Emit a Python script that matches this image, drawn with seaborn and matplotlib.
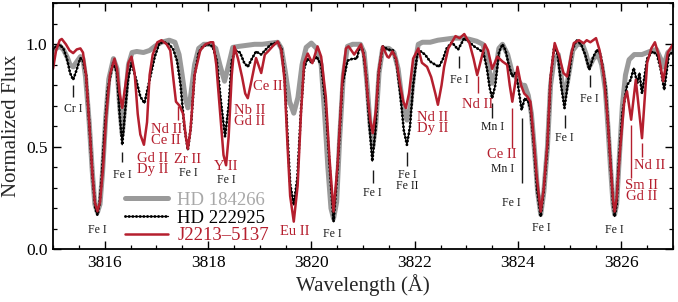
import matplotlib
matplotlib.use("Agg")
import matplotlib.pyplot as plt
import seaborn as sns
from matplotlib.ticker import MultipleLocator, FormatStrFormatter
from matplotlib.lines import Line2D
from matplotlib.legend_handler import HandlerTuple

# ---------------- data ----------------
gray_wl = [3815.00, 3815.06, 3815.13, 3815.20, 3815.27, 3815.33, 3815.39, 3815.46, 3815.53, 3815.58,
           3815.63, 3815.70, 3815.76, 3815.81, 3815.86, 3815.91, 3815.96, 3816.02, 3816.08, 3816.17,
           3816.24, 3816.29, 3816.34, 3816.39, 3816.46, 3816.53, 3816.62, 3816.75, 3816.87, 3816.97,
           3817.10, 3817.25, 3817.36, 3817.44, 3817.50, 3817.56, 3817.61, 3817.66, 3817.74, 3817.82,
           3817.92, 3818.05, 3818.15, 3818.23, 3818.32, 3818.40, 3818.48, 3818.60, 3818.75, 3818.90,
           3819.05, 3819.20, 3819.35, 3819.42, 3819.50, 3819.58, 3819.66, 3819.74, 3819.82, 3819.90,
           3820.00, 3820.10, 3820.19, 3820.26, 3820.32, 3820.38, 3820.43, 3820.49, 3820.55, 3820.62,
           3820.70, 3820.80, 3820.95, 3821.02, 3821.08, 3821.14, 3821.19, 3821.25, 3821.31, 3821.38,
           3821.50, 3821.60, 3821.68, 3821.76, 3821.85, 3821.92, 3821.99, 3822.07, 3822.15, 3822.30,
           3822.45, 3822.60, 3822.75, 3822.90, 3823.05, 3823.20, 3823.32, 3823.40, 3823.46, 3823.50,
           3823.56, 3823.63, 3823.70, 3823.80, 3823.89, 3823.96, 3824.07, 3824.13, 3824.20, 3824.26,
           3824.32, 3824.38, 3824.44, 3824.50, 3824.57, 3824.63, 3824.70, 3824.78, 3824.85, 3824.90,
           3824.96, 3825.06, 3825.15, 3825.25, 3825.32, 3825.38, 3825.46, 3825.55, 3825.62, 3825.69,
           3825.74, 3825.79, 3825.84, 3825.87, 3825.91, 3825.95, 3826.02, 3826.08, 3826.15, 3826.25,
           3826.40, 3826.55, 3826.68, 3826.76, 3826.81, 3826.90, 3827.00]
gray_flux = [0.96, 0.98, 0.99, 0.975, 0.94, 0.90, 0.89, 0.915, 0.94, 0.93,
             0.84, 0.62, 0.38, 0.22, 0.18, 0.22, 0.38, 0.64, 0.83, 0.93,
             0.88, 0.70, 0.56, 0.70, 0.90, 0.96, 0.965, 0.96, 0.97, 0.99,
             1.01, 1.02, 1.01, 0.95, 0.85, 0.74, 0.69, 0.74, 0.90, 0.98,
             1.00, 1.00, 0.98, 0.90, 0.82, 0.90, 0.985, 0.99, 0.995, 1.00,
             1.00, 1.005, 1.01, 0.98, 0.86, 0.72, 0.664, 0.74, 0.90, 0.985,
             1.006, 0.98, 0.90, 0.65, 0.40, 0.20, 0.15, 0.23, 0.55, 0.85,
             0.99, 1.00, 1.00, 0.96, 0.80, 0.60, 0.50, 0.62, 0.86, 0.98,
             0.98, 0.96, 0.88, 0.72, 0.63, 0.70, 0.88, 1.00, 1.01, 1.01,
             1.02, 1.025, 1.03, 1.03, 1.025, 1.015, 1.00, 0.93, 0.85, 0.81,
             0.86, 0.98, 1.00, 0.95, 0.86, 0.84, 0.80, 0.80, 0.75, 0.66,
             0.48, 0.28, 0.17, 0.28, 0.50, 0.80, 0.93, 0.95, 0.82, 0.745,
             0.82, 0.97, 1.00, 1.00, 0.95, 0.89, 0.93, 0.95, 0.90, 0.78,
             0.60, 0.40, 0.22, 0.17, 0.22, 0.40, 0.70, 0.85, 0.925, 0.95,
             0.95, 0.965, 0.975, 0.93, 0.89, 0.96, 0.98]

black_wl = [3815.00, 3815.06, 3815.13, 3815.20, 3815.27, 3815.33, 3815.39, 3815.45, 3815.53, 3815.58,
            3815.64, 3815.71, 3815.77, 3815.82, 3815.86, 3815.90, 3815.94, 3816.00, 3816.06, 3816.16,
            3816.24, 3816.29, 3816.34, 3816.39, 3816.45, 3816.52, 3816.61, 3816.69, 3816.77, 3816.87,
            3816.97, 3817.06, 3817.15, 3817.25, 3817.33, 3817.40, 3817.47, 3817.54, 3817.61, 3817.67,
            3817.74, 3817.82, 3817.90, 3818.00, 3818.09, 3818.17, 3818.25, 3818.33, 3818.40, 3818.46,
            3818.53, 3818.62, 3818.70, 3818.77, 3818.85, 3818.93, 3819.03, 3819.12, 3819.22, 3819.35,
            3819.42, 3819.48, 3819.54, 3819.59, 3819.66, 3819.73, 3819.80, 3819.86, 3819.92, 3820.01,
            3820.10, 3820.19, 3820.28, 3820.35, 3820.43, 3820.51, 3820.60, 3820.70, 3820.80, 3820.88,
            3820.94, 3821.00, 3821.06, 3821.12, 3821.18, 3821.24, 3821.30, 3821.38, 3821.48, 3821.58,
            3821.65, 3821.72, 3821.79, 3821.85, 3821.91, 3821.97, 3822.05, 3822.12, 3822.20, 3822.30,
            3822.40, 3822.47, 3822.55, 3822.62, 3822.72, 3822.84, 3822.96, 3823.06, 3823.15, 3823.25,
            3823.33, 3823.40, 3823.45, 3823.50, 3823.56, 3823.63, 3823.70, 3823.76, 3823.82, 3823.89,
            3823.95, 3824.00, 3824.07, 3824.13, 3824.20, 3824.245, 3824.31, 3824.37, 3824.44, 3824.50,
            3824.57, 3824.63, 3824.70, 3824.77, 3824.84, 3824.90, 3824.96, 3825.05, 3825.13, 3825.22,
            3825.30, 3825.38, 3825.46, 3825.53, 3825.60, 3825.69, 3825.74, 3825.79, 3825.84, 3825.87,
            3825.91, 3825.95, 3826.02, 3826.11, 3826.18, 3826.24, 3826.31, 3826.35, 3826.40, 3826.50,
            3826.60, 3826.69, 3826.76, 3826.83, 3826.92, 3827.00]
black_flux = [0.975, 0.99, 0.998, 0.98, 0.93, 0.86, 0.827, 0.87, 0.933, 0.92,
              0.85, 0.58, 0.34, 0.20, 0.167, 0.22, 0.34, 0.58, 0.78, 0.91,
              0.86, 0.66, 0.51, 0.66, 0.827, 0.91, 0.827, 0.745, 0.713, 0.827,
              0.94, 1.006, 1.01, 1.00, 0.974, 0.92, 0.80, 0.60, 0.485, 0.60,
              0.85, 0.96, 0.99, 1.00, 0.99, 0.92, 0.72, 0.55, 0.70, 0.92,
              0.97, 0.96, 0.91, 0.89, 0.93, 0.965, 0.95, 0.975, 1.00, 1.01,
              0.98, 0.85, 0.55, 0.32, 0.216, 0.35, 0.68, 0.88, 0.93, 0.91,
              0.94, 0.90, 0.70, 0.42, 0.135, 0.40, 0.80, 0.92, 0.93, 0.93,
              0.99, 0.97, 0.85, 0.62, 0.43, 0.58, 0.85, 0.99, 0.975, 0.97,
              0.91, 0.76, 0.58, 0.51, 0.60, 0.80, 0.95, 0.965, 0.95, 0.916,
              0.90, 0.89, 0.93, 0.98, 1.01, 0.974, 1.03, 1.01, 0.99, 0.974,
              0.96, 0.88, 0.79, 0.737, 0.80, 0.96, 1.00, 0.97, 0.90, 0.843,
              0.86, 0.80, 0.68, 0.737, 0.72, 0.68, 0.50, 0.29, 0.16, 0.29,
              0.50, 0.83, 0.99, 0.95, 0.79, 0.689, 0.80, 0.97, 1.02, 1.00,
              0.95, 0.876, 0.94, 0.974, 0.95, 0.80, 0.62, 0.42, 0.22, 0.16,
              0.22, 0.42, 0.664, 0.80, 0.827, 0.884, 0.81, 0.86, 0.76, 0.93,
              0.965, 0.95, 0.88, 0.778, 0.95, 0.96]

red_wl = [3815.00, 3815.06, 3815.13, 3815.17, 3815.25, 3815.32, 3815.39, 3815.46, 3815.53, 3815.58,
          3815.64, 3815.70, 3815.76, 3815.81, 3815.86, 3815.91, 3815.97, 3816.03, 3816.10, 3816.19,
          3816.24, 3816.29, 3816.34, 3816.39, 3816.46, 3816.52, 3816.58, 3816.64, 3816.69, 3816.76,
          3816.82, 3816.87, 3816.93, 3817.02, 3817.10, 3817.20, 3817.27, 3817.33, 3817.38, 3817.45,
          3817.52, 3817.57, 3817.61, 3817.66, 3817.74, 3817.85, 3817.95, 3818.05, 3818.10, 3818.16,
          3818.23, 3818.30, 3818.35, 3818.40, 3818.46, 3818.51, 3818.58, 3818.66, 3818.72, 3818.77,
          3818.84, 3818.93, 3819.03, 3819.10, 3819.16, 3819.25, 3819.35, 3819.42, 3819.48, 3819.54,
          3819.59, 3819.66, 3819.735, 3819.80, 3819.86, 3819.93, 3820.02, 3820.12, 3820.19, 3820.28,
          3820.35, 3820.43, 3820.51, 3820.60, 3820.67, 3820.72, 3820.83, 3820.96, 3821.03, 3821.09,
          3821.14, 3821.19, 3821.25, 3821.31, 3821.38, 3821.47, 3821.50, 3821.57, 3821.64, 3821.72,
          3821.78, 3821.83, 3821.89, 3821.97, 3822.07, 3822.14, 3822.24, 3822.32, 3822.40, 3822.45,
          3822.52, 3822.57, 3822.65, 3822.79, 3822.87, 3822.96, 3823.06, 3823.14, 3823.21, 3823.29,
          3823.36, 3823.42, 3823.50, 3823.60, 3823.70, 3823.79, 3823.84, 3823.89, 3823.94, 3823.99,
          3824.06, 3824.12, 3824.18, 3824.24, 3824.30, 3824.36, 3824.44, 3824.50, 3824.57, 3824.63,
          3824.71, 3824.80, 3824.88, 3824.95, 3825.03, 3825.08, 3825.18, 3825.27, 3825.33, 3825.40,
          3825.51, 3825.58, 3825.66, 3825.74, 3825.79, 3825.84, 3825.87, 3825.91, 3825.98, 3826.06,
          3826.11, 3826.19, 3826.28, 3826.40, 3826.50, 3826.58, 3826.65, 3826.72, 3826.81, 3826.90,
          3827.00]
red_flux = [0.88, 0.97, 1.02, 1.026, 1.00, 0.97, 0.957, 0.975, 0.98, 0.96,
            0.85, 0.62, 0.38, 0.23, 0.185, 0.23, 0.40, 0.65, 0.85, 0.93,
            0.88, 0.76, 0.69, 0.78, 0.91, 0.94, 0.86, 0.66, 0.56, 0.51,
            0.62, 0.85, 0.95, 1.01, 1.02, 1.00, 0.97, 0.83, 0.72, 0.70,
            0.66, 0.55, 0.49, 0.58, 0.85, 0.97, 1.00, 1.01, 1.01, 0.90,
            0.68, 0.46, 0.41, 0.55, 0.85, 0.99, 0.93, 0.84, 0.76, 0.737,
            0.82, 0.933, 0.86, 0.95, 0.965, 0.99, 1.014, 0.97, 0.827, 0.50,
            0.26, 0.135, 0.31, 0.665, 0.91, 0.955, 0.908, 0.99, 0.94, 0.745,
            0.45, 0.184, 0.42, 0.827, 0.98, 0.99, 0.95, 1.00, 0.93, 0.75,
            0.63, 0.567, 0.68, 0.88, 0.99, 0.94, 0.935, 0.965, 0.93, 0.80,
            0.72, 0.689, 0.76, 0.93, 0.98, 0.91, 0.89, 0.84, 0.76, 0.705,
            0.80, 0.89, 0.98, 1.04, 1.03, 1.05, 1.006, 0.93, 0.85, 0.93,
            1.00, 0.97, 0.88, 0.94, 0.916, 0.90, 0.80, 0.72, 0.80, 0.89,
            0.80, 0.76, 0.745, 0.72, 0.55, 0.36, 0.184, 0.30, 0.52, 0.84,
            1.006, 0.94, 0.86, 0.843, 0.95, 1.006, 1.02, 1.005, 1.02, 1.01,
            1.03, 0.97, 0.85, 0.62, 0.42, 0.24, 0.184, 0.25, 0.50, 0.73,
            0.77, 0.632, 0.827, 0.542, 0.91, 0.98, 1.01, 0.95, 0.82, 0.96,
            1.00]

series_names = ["HD 184266", "HD 222925", "J2213\u20135137"]

# line identifications: (text, wavelength, flux position, colour, fontsize)
RED = "#b51f2e"
line_labels = [
    ("Cr I", 3815.387, 0.685, "k", 8.5),
    ("Fe I", 3815.865, 0.094, "k", 8.5),
    ("Fe I", 3816.342, 0.363, "k", 8.5),
    ("Gd II\nDy II", 3816.933, 0.417, RED, 10.5),
    ("Nd II\nCe II", 3817.192, 0.558, RED, 10.5),
    ("Zr II", 3817.610, 0.436, RED, 10.5),
    ("Fe I", 3817.610, 0.374, "k", 8.5),
    ("Y II", 3818.352, 0.405, RED, 10.5),
    ("Fe I", 3818.352, 0.336, "k", 8.5),
    ("Nb II\nGd II", 3818.802, 0.651, RED, 10.5),
    ("Ce II", 3819.156, 0.795, RED, 10.5),
    ("Eu II", 3819.671, 0.086, RED, 10.5),
    ("Fe I", 3820.412, 0.073, "k", 8.5),
    ("Fe I", 3821.185, 0.277, "k", 8.5),
    ("Fe I\nFe II", 3821.861, 0.336, "k", 8.5),
    ("Nd II\nDy II", 3822.344, 0.617, RED, 10.5),
    ("Fe I", 3822.860, 0.827, "k", 8.5),
    ("Nd II", 3823.227, 0.705, RED, 10.5),
    ("Mn I", 3823.503, 0.599, "k", 8.5),
    ("Ce II", 3823.691, 0.461, RED, 10.5),
    ("Mn I", 3823.700, 0.392, "k", 8.5),
    ("Fe I", 3823.874, 0.226, "k", 8.5),
    ("Fe I", 3824.457, 0.103, "k", 8.5),
    ("Fe I", 3824.902, 0.542, "k", 8.5),
    ("Fe I", 3825.385, 0.734, "k", 8.5),
    ("Fe I", 3825.868, 0.094, "k", 8.5),
    ("Sm II\nGd II", 3826.388, 0.285, RED, 10.5),
    ("Nd II", 3826.541, 0.407, RED, 10.5),
]
# marker ticks: (wavelength, flux top, flux bottom, colour)
line_ticks = [
    (3815.387, 0.802, 0.744, "k"),
    (3816.342, 0.477, 0.428, "k"),
    (3817.416, 0.697, 0.632, RED),
    (3821.185, 0.387, 0.322, "k"),
    (3821.861, 0.477, 0.404, "k"),
    (3822.860, 0.941, 0.884, "k"),
    (3823.227, 0.843, 0.762, RED),
    (3823.503, 0.713, 0.640, "k"),
    (3823.890, 0.690, 0.495, RED),
    (3824.072, 0.641, 0.324, "k"),
    (3824.902, 0.656, 0.591, "k"),
    (3825.385, 0.851, 0.794, "k"),
    (3826.193, 0.607, 0.348, RED),
    (3826.396, 0.519, 0.451, RED),
]

# ---------------- plot ----------------
sns.set_theme(style="ticks")
plt.rcParams["font.family"] = ["Liberation Serif", "DejaVu Serif"]

fig = plt.figure(figsize=(6.78, 3.02), dpi=100)
ax = fig.add_axes([53 / 678, 1 - 249.3 / 302, 620 / 678, 246 / 302])

GRAY = "#9a9a9a"
sns.lineplot(x=gray_wl, y=gray_flux, ax=ax, color=GRAY, linewidth=3.6,
             sort=False, estimator=None, solid_capstyle="round")
sns.lineplot(x=black_wl, y=black_flux, ax=ax, color="black", linewidth=0.9,
             sort=False, estimator=None)
sns.lineplot(x=black_wl, y=black_flux, ax=ax, color="black", linewidth=2.1,
             sort=False, estimator=None, linestyle=(0, (0.01, 1.25)),
             dash_capstyle="round")
sns.lineplot(x=red_wl, y=red_flux, ax=ax, color=RED, linewidth=1.8,
             sort=False, estimator=None)

for wl, f0, f1, c in line_ticks:
    ax.vlines(wl, f1, f0, color=c, lw=1.0)
for txt, wl, f, c, fs in line_labels:
    ax.text(wl, f, txt, color=c, fontsize=fs, ha="center", va="center",
            linespacing=0.85)

ax.set_xlim(3815.0, 3827.0)
ax.set_ylim(0.0, 1.2)
ax.xaxis.set_major_locator(MultipleLocator(2))
ax.xaxis.set_minor_locator(MultipleLocator(0.5))
ax.yaxis.set_major_locator(MultipleLocator(0.5))
ax.yaxis.set_minor_locator(MultipleLocator(0.1))
ax.xaxis.set_major_formatter(FormatStrFormatter("%d"))
ax.yaxis.set_major_formatter(FormatStrFormatter("%.1f"))
ax.tick_params(which="both", direction="in", top=True, right=True,
               labelsize=12.5, colors="black")
ax.tick_params(which="major", length=6, width=1.0, pad=4)
ax.tick_params(which="minor", length=3.2, width=0.9)
for s in ax.spines.values():
    s.set_linewidth(1.3)
    s.set_color("black")

ax.set_xlabel("Wavelength (\u00c5)", fontsize=15, labelpad=2)
ax.set_ylabel("Normalized Flux", fontsize=15)
ax.yaxis.set_label_coords(-0.052, 0.5)

h_gray = Line2D([], [], color=GRAY, lw=3.6)
h_black = (Line2D([], [], color="black", lw=0.9),
           Line2D([], [], color="black", lw=2.1, linestyle=(0, (0.01, 1.25)),
                  dash_capstyle="round"))
h_red = Line2D([], [], color=RED, lw=1.8)
leg = ax.legend([h_gray, h_black, h_red], series_names,
                handler_map={tuple: HandlerTuple(ndivide=1)},
                loc="lower left", bbox_to_anchor=(0.116, 0.02),
                frameon=False, fontsize=13.5, handlelength=2.3,
                handletextpad=0.5, labelspacing=0.04, borderpad=0,
                borderaxespad=0)
for t, c in zip(leg.get_texts(), ["#a8a8a8", "black", RED]):
    t.set_color(c)

fig.savefig("out.png", dpi=100)
